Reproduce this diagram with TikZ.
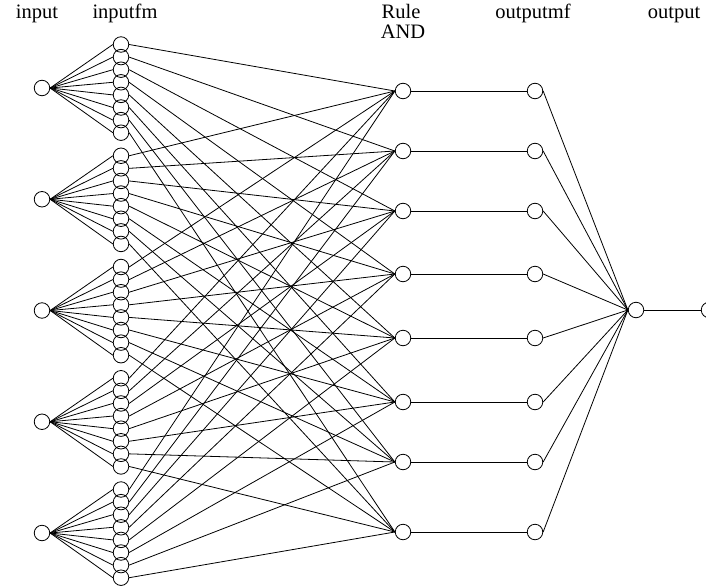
\documentclass[tikz,border=0pt]{standalone}
\usepackage{fontspec}
\setmainfont{Liberation Serif}
\begin{document}
\begin{tikzpicture}[x=1pt,y=-1pt,
  neuron/.style={circle,draw,line width=0.8pt,minimum size=15.5pt,inner sep=0pt},
  link/.style={line width=0.8pt},
  lbl/.style={font=\fontsize{20.5}{22}\selectfont,inner sep=0pt,anchor=base}]
\useasboundingbox (0,0) rectangle (706,586);
% labels
\node[lbl] (tin) at (37,19) {input};
\node[lbl] (tmf) at (125,19) {inputfm};
\node[lbl] (trule) at (401,19) {Rule};
\node[lbl] (tand) at (403,38) {AND};
\node[lbl] (tomf) at (533,19) {outputmf};
\node[lbl] (tout) at (674,19) {output};
% inputs and input mfs
\foreach \j in {1,...,5}{
  \pgfmathsetmacro{\yc}{88+111.25*(\j-1)}
  \node[neuron] (in\j) at (42,\yc) {};
  \foreach \k in {1,...,8}{
    \pgfmathsetmacro{\ym}{\yc-43.5+12.6*(\k-1)}
    \node[neuron] (mf-\j-\k) at (121,\ym) {};
  }
}
% rules and output mfs
\foreach \r/\y in {1/91,2/151,3/211,4/274,5/338,6/402,7/462,8/532}{
  \node[neuron] (r\r) at (403,\y) {};
  \node[neuron] (om\r) at (535,\y) {};
}
\node[neuron] (sum) at (636,310) {};
\node[neuron] (out) at (709,310) {};
% connectors
\foreach \j in {1,...,5}{
  \foreach \k in {1,...,8}{
    \draw[link] (in\j.east) -- (mf-\j-\k.west);
    \draw[link] (mf-\j-\k.east) -- (r\k.west);
  }
}
\foreach \r in {1,...,8}{
  \draw[link] (r\r.east) -- (om\r.west);
  \draw[link] (om\r.east) -- (sum.west);
}
\draw[link] (sum.east) -- (out.west);
\end{tikzpicture}
\end{document}
